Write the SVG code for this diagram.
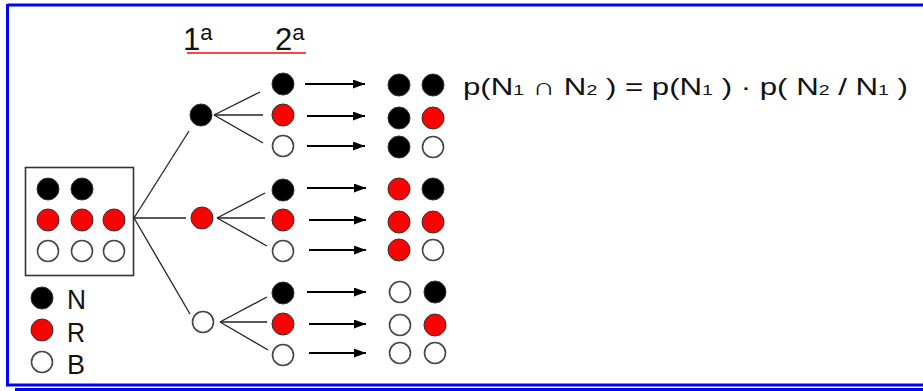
<svg xmlns="http://www.w3.org/2000/svg" width="923" height="391" viewBox="0 0 923 391">
<style>
.k{fill:#000;stroke:#333;stroke-width:1}
.r{fill:#f00;stroke:#333;stroke-width:1}
.w{fill:#fff;stroke:#444;stroke-width:1.6}
.ln{stroke:#222;stroke-width:1.3;fill:none}
.ar{stroke:#000;stroke-width:2;fill:none}
.t{font-family:"Liberation Sans",Arial,sans-serif;fill:#111}
</style>
<defs>
<marker id="ah" markerWidth="12" markerHeight="9" refX="12" refY="4.5" orient="auto" markerUnits="userSpaceOnUse">
<path d="M0,0 L12,4.5 L0,9 Z" fill="#000"/>
</marker>
</defs>
<rect width="923" height="391" fill="#fff"/>
<g id="frame">
<line x1="7.5" y1="5" x2="923" y2="5" stroke="#00f" stroke-width="3"/>
<line x1="7.5" y1="4" x2="7.5" y2="386" stroke="#00f" stroke-width="3"/>
<line x1="6" y1="385" x2="923" y2="385" stroke="#00f" stroke-width="3"/>
<rect x="15" y="388" width="908" height="3" fill="#00f"/>
</g>
<g id="header">
<text class="t" x="183" y="50" font-size="31">1<tspan font-size="22" dy="-10">a</tspan></text>
<text class="t" x="275" y="50" font-size="31">2<tspan font-size="22" dy="-10">a</tspan></text>
<line x1="187" y1="53" x2="306" y2="53" stroke="#f44" stroke-width="2"/>
</g>
<g id="urn">
<rect x="25.5" y="167.5" width="108" height="108" fill="none" stroke="#333" stroke-width="1.6"/>
<circle class="k" cx="48" cy="189" r="11"/>
<circle class="k" cx="82" cy="189" r="11"/>
<circle class="r" cx="48" cy="220" r="11"/>
<circle class="r" cx="82" cy="220" r="11"/>
<circle class="r" cx="114" cy="220" r="11"/>
<circle class="w" cx="48" cy="251" r="10.5"/>
<circle class="w" cx="82" cy="251" r="10.5"/>
<circle class="w" cx="114" cy="251" r="10.5"/>
</g>
<g id="legend">
<circle class="k" cx="42" cy="298" r="11"/>
<circle class="r" cx="42" cy="330" r="11"/>
<circle class="w" cx="42" cy="362" r="10.5"/>
<text class="t" x="67" y="309" font-size="28" textLength="19" lengthAdjust="spacingAndGlyphs">N</text>
<text class="t" x="67" y="342" font-size="28" textLength="18" lengthAdjust="spacingAndGlyphs">R</text>
<text class="t" x="67" y="374" font-size="28" textLength="18" lengthAdjust="spacingAndGlyphs">B</text>
</g>
<g id="connectors">
<line class="ln" x1="134" y1="218" x2="189" y2="131"/>
<line class="ln" x1="134" y1="218" x2="186" y2="218"/>
<line class="ln" x1="134" y1="218" x2="190" y2="314"/>
<line class="ln" x1="214" y1="115" x2="260" y2="92"/>
<line class="ln" x1="214" y1="115" x2="263" y2="115"/>
<line class="ln" x1="214" y1="115" x2="263" y2="143"/>
<line class="ln" x1="217" y1="218" x2="265" y2="193"/>
<line class="ln" x1="217" y1="218" x2="265" y2="218"/>
<line class="ln" x1="217" y1="218" x2="267" y2="246"/>
<line class="ln" x1="220" y1="322" x2="267" y2="297"/>
<line class="ln" x1="220" y1="322" x2="267" y2="322"/>
<line class="ln" x1="220" y1="322" x2="268" y2="350"/>
<line class="ar" x1="305" y1="84" x2="365" y2="84" marker-end="url(#ah)"/>
<line class="ar" x1="307" y1="116" x2="365" y2="116" marker-end="url(#ah)"/>
<line class="ar" x1="307" y1="146" x2="365" y2="146" marker-end="url(#ah)"/>
<line class="ar" x1="307" y1="188" x2="366" y2="188" marker-end="url(#ah)"/>
<line class="ar" x1="309" y1="220" x2="366" y2="220" marker-end="url(#ah)"/>
<line class="ar" x1="309" y1="250" x2="366" y2="250" marker-end="url(#ah)"/>
<line class="ar" x1="307" y1="292" x2="366" y2="292" marker-end="url(#ah)"/>
<line class="ar" x1="309" y1="324" x2="366" y2="324" marker-end="url(#ah)"/>
<line class="ar" x1="309" y1="353" x2="366" y2="353" marker-end="url(#ah)"/>
</g>
<g id="first-draw">
<circle class="k" cx="201" cy="115" r="11"/>
<circle class="r" cx="202" cy="218" r="11"/>
<circle class="w" cx="203" cy="322" r="10.5"/>
</g>
<g id="second-draw">
<circle class="k" cx="283" cy="84" r="11"/>
<circle class="r" cx="283" cy="115" r="11"/>
<circle class="w" cx="283" cy="146" r="10.5"/>
<circle class="k" cx="283" cy="190" r="11"/>
<circle class="r" cx="283" cy="220" r="11"/>
<circle class="w" cx="283" cy="251" r="10.5"/>
<circle class="k" cx="283" cy="293" r="11"/>
<circle class="r" cx="283" cy="324" r="11"/>
<circle class="w" cx="283" cy="355" r="10.5"/>
</g>
<g id="results">
<circle class="k" cx="399" cy="85" r="11"/><circle class="k" cx="433" cy="85" r="11"/>
<circle class="k" cx="399" cy="118" r="11"/><circle class="r" cx="433" cy="118" r="11"/>
<circle class="k" cx="399" cy="147" r="11"/><circle class="w" cx="433" cy="147" r="10.5"/>
<circle class="r" cx="399" cy="189" r="11"/><circle class="k" cx="433" cy="189" r="11"/>
<circle class="r" cx="399" cy="222" r="11"/><circle class="r" cx="433" cy="222" r="11"/>
<circle class="r" cx="399" cy="250" r="11"/><circle class="w" cx="433" cy="250" r="10.5"/>
<circle class="w" cx="400" cy="292" r="10.5"/><circle class="k" cx="435" cy="292" r="11"/>
<circle class="w" cx="400" cy="325" r="10.5"/><circle class="r" cx="435" cy="325" r="11"/>
<circle class="w" cx="400" cy="353" r="10.5"/><circle class="w" cx="435" cy="353" r="10.5"/>
</g>
<g id="formula">
<text class="t" x="463" y="95" font-size="24" textLength="445" lengthAdjust="spacingAndGlyphs">p(N<tspan font-size="15">1</tspan> ∩ N<tspan font-size="15">2</tspan> ) = p(N<tspan font-size="15">1</tspan> ) · p( N<tspan font-size="15">2</tspan> / N<tspan font-size="15">1</tspan> )</text>
</g>
</svg>
